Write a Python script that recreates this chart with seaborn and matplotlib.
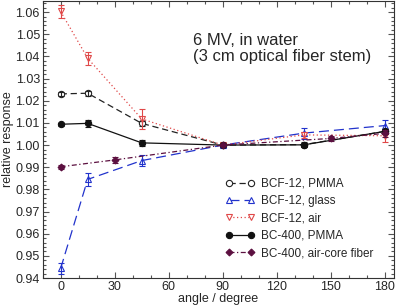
import numpy as np
import pandas as pd
import seaborn as sns
import matplotlib as mpl
import matplotlib.pyplot as plt
from matplotlib.ticker import MultipleLocator

mpl.use('Agg')
sns.set_style('ticks')
plt.rcParams['font.family'] = ['Liberation Sans', 'DejaVu Sans']

# ---- data ----
angles_std = [0, 15, 45, 90, 135, 180]
angles_core = [0, 30, 90, 150, 180]

bcf_pmma     = [1.0231, 1.0234, 1.0098, 1.0000, 1.0002, 1.0062]
bcf_pmma_err = [0.0010, 0.0012, 0.0012, 0.0005, 0.0010, 0.0010]
bcf_glass     = [0.9443, 0.9845, 0.9930, 1.0000, 1.0054, 1.0088]
bcf_glass_err = [0.0025, 0.0030, 0.0025, 0.0005, 0.0025, 0.0025]
bcf_air     = [1.0603, 1.0392, 1.0118, 1.0000, 1.0046, 1.0042]
bcf_air_err = [0.0030, 0.0030, 0.0045, 0.0005, 0.0015, 0.0030]
bc_pmma     = [1.0094, 1.0098, 1.0010, 1.0000, 1.0001, 1.0062]
bc_pmma_err = [0.0007, 0.0015, 0.0015, 0.0005, 0.0010, 0.0010]
bc_core     = [0.9902, 0.9933, 1.0000, 1.0030, 1.0053]
bc_core_err = [0.0010, 0.0015, 0.0005, 0.0012, 0.0015]

series = [
    # label, x, y, err, color, marker, linestyle, mfc
    ('BCF-12, PMMA', angles_std, bcf_pmma, bcf_pmma_err, '#222222', 'o', (0, (5, 3)), 'white'),
    ('BCF-12, glass', angles_std, bcf_glass, bcf_glass_err, '#2233cc', '^', (0, (8, 4)), 'white'),
    ('BCF-12, air', angles_std, bcf_air, bcf_air_err, '#e04848', 'v', (0, (1, 2)), 'white'),
    ('BC-400, PMMA', angles_std, bc_pmma, bc_pmma_err, '#111111', 'o', '-', None),
    ('BC-400, air-core fiber', angles_core, bc_core, bc_core_err, '#5c1040', 'D', (0, (4, 2, 1, 2)), None),
]

fig = plt.figure(figsize=(4.02, 3.06), dpi=100)
ax = fig.add_axes([0.106, 0.0915, 0.874, 0.905])

for label, xs, ys, err, col, mk, ls, mfc in series:
    df = pd.DataFrame({'angle': xs, 'resp': ys})
    ms = 3.5 if mk == 'D' else 4.5
    sns.lineplot(data=df, x='angle', y='resp', ax=ax, color=col, label=label,
                 marker=mk, markersize=ms, linestyle=ls, linewidth=0.9,
                 markerfacecolor=mfc if mfc else col, markeredgecolor=col,
                 markeredgewidth=0.8)
    ax.errorbar(xs, ys, yerr=err, fmt='none', ecolor=col, elinewidth=0.8,
                capsize=2.5, capthick=0.8)

ax.text(73.6, 1.0435, '6 MV, in water\n(3 cm optical fiber stem)', fontsize=12,
        ha='left', va='center', linespacing=1.1)

ax.set_xlim(-10, 185)
ax.set_ylim(0.94, 1.065)
ax.xaxis.set_major_locator(MultipleLocator(30))
ax.xaxis.set_minor_locator(MultipleLocator(10))
ax.yaxis.set_major_locator(MultipleLocator(0.01))
ax.yaxis.set_minor_locator(MultipleLocator(0.002))
ax.yaxis.set_major_formatter(mpl.ticker.FormatStrFormatter('%.2f'))
ax.tick_params(which='both', direction='in', top=True, right=True,
               labelsize=9, color='#555555', width=0.8, pad=2)
ax.tick_params(which='major', length=4)
ax.tick_params(which='minor', length=2.5)
for sp in ax.spines.values():
    sp.set_linewidth(0.8)
    sp.set_color('#333333')

ax.set_xlabel('angle / degree', fontsize=9, labelpad=0)
ax.set_ylabel('relative response', fontsize=9, labelpad=1)

leg = ax.legend(loc='lower left', bbox_to_anchor=(0.506, 0.051), frameon=False,
                numpoints=2, fontsize=8.5, handlelength=2.5, handletextpad=0.5,
                labelspacing=0.45, borderaxespad=0)

fig.savefig('out.png', dpi=100)
